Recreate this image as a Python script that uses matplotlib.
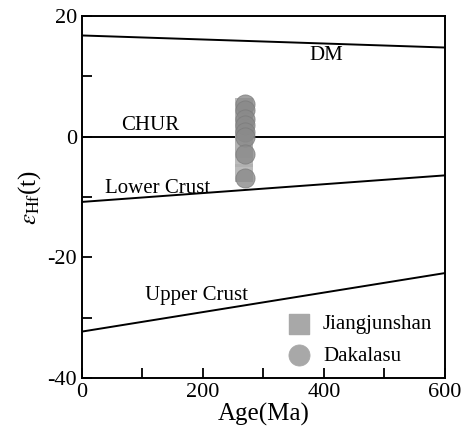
import matplotlib
matplotlib.use("Agg")
import matplotlib.pyplot as plt
from matplotlib.ticker import MultipleLocator

plt.rcParams["font.family"] = ["Liberation Serif", "DejaVu Serif"]
plt.rcParams["mathtext.fontset"] = "stix"
plt.rcParams["axes.unicode_minus"] = False

# evolution lines (age in Ma, epsilon Hf)
line_ages = [0, 600]
dm_line = [16.8, 14.8]
chur_line = [0.0, 0.0]
lower_crust_line = [-10.8, -6.4]
upper_crust_line = [-32.3, -22.6]

# zircon Hf data
jiangjunshan_age = [268, 268, 268, 268, 268, 268, 268, 268]
jiangjunshan_ehf = [5.0, 3.5, 2.0, 0.5, -1.0, -2.0, -3.5, -6.0]
dakalasu_age = [270, 270, 270, 270, 270, 270, 270, 270]
dakalasu_ehf = [5.5, 4.4, 3.0, 1.9, 0.8, 0.0, -2.8, -6.9]

fig = plt.figure(figsize=(4.62, 4.37), dpi=100)
ax = fig.add_axes([0.1775, 0.135, 0.7855, 0.828])

for ys in (dm_line, chur_line, lower_crust_line, upper_crust_line):
    ax.plot(line_ages, ys, color="black", lw=1.4)

ax.scatter(jiangjunshan_age, jiangjunshan_ehf, marker="s", s=170,
           color="#b0b0b0", alpha=0.85, edgecolors="none", label="Jiangjunshan", zorder=3)
ax.scatter(dakalasu_age, dakalasu_ehf, marker="o", s=190,
           color="#8a8a8a", alpha=0.8, edgecolors="#7a7a7a", linewidths=0.6,
           label="Dakalasu", zorder=4)

ax.text(403, 13.4, "DM", fontsize=15, ha="center", va="center")
ax.text(112, 1.9, "CHUR", fontsize=15, ha="center", va="center")
ax.text(125, -8.5, "Lower Crust", fontsize=15, ha="center", va="center")
ax.text(190, -26.3, "Upper Crust", fontsize=15, ha="center", va="center")

ax.set_xlim(0, 600)
ax.set_ylim(-40, 20)
ax.xaxis.set_major_locator(MultipleLocator(200))
ax.xaxis.set_minor_locator(MultipleLocator(100))
ax.yaxis.set_major_locator(MultipleLocator(20))
ax.yaxis.set_minor_locator(MultipleLocator(10))
ax.tick_params(which="both", direction="in", length=7, width=1.3,
               labelsize=16, top=False, right=False)
for sp in ax.spines.values():
    sp.set_linewidth(1.4)

ax.set_xlabel("Age(Ma)", fontsize=18, labelpad=1)
ax.set_ylabel(r"$\varepsilon_{\rm Hf}$(t)", fontsize=18, labelpad=3)

leg = ax.legend(loc="lower right", frameon=False, fontsize=15, handletextpad=0.15,
                borderaxespad=0.2, labelspacing=0.55, markerscale=1.1,
                bbox_to_anchor=(1.0, 0.0))
for h in leg.legend_handles:
    h.set_alpha(1.0)
    h.set_color("#a8a8a8")

fig.savefig("out.png", dpi=100)
